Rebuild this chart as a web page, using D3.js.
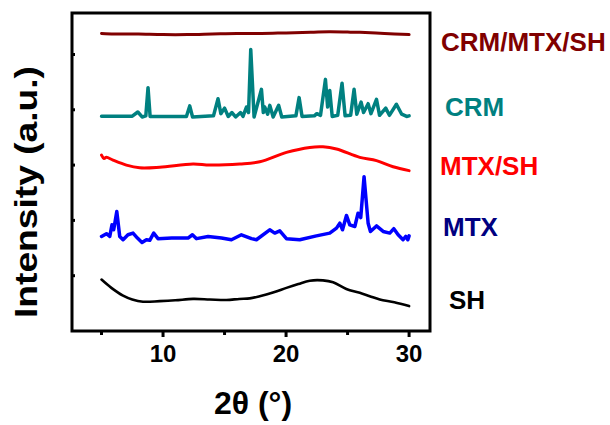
<!DOCTYPE html>
<html>
<head>
<meta charset="utf-8">
<script src="https://cdn.jsdelivr.net/npm/d3@7/dist/d3.min.js"></script>
<style>
  html, body { margin: 0; padding: 0; background: #fff; }
  svg { display: block; }
  text { font-family: "Liberation Sans", Arial, Helvetica, sans-serif; font-weight: bold; }
</style>
</head>
<body>
<svg id="chart" width="610" height="425"></svg>
<script>
// XRD patterns, stacked with vertical offsets (2θ in degrees, intensity in a.u.)
const seriesNames = ["CRM/MTX/SH", "CRM", "MTX/SH", "MTX", "SH"];
const lineColors  = ["#800000", "#008080", "#ff0000", "#0000ff", "#000000"];
const labelColors = ["#800000", "#008080", "#ff0000", "#000080", "#000000"];

const xTicks = [5, 10, 15, 20, 25, 30];
const xTickLabels = ["", "10", "", "20", "", "30"];
const yTicks = [1, 2, 3, 4, 5];

const crmMtxSh = [
  [5.0, 5.38], [6.0, 5.37], [7.0, 5.37], [8.0, 5.37], [10.0, 5.36], [12.0, 5.36],
  [14.0, 5.37], [16.0, 5.38], [18.0, 5.38], [20.0, 5.39], [22.0, 5.40], [23.5, 5.41],
  [25.0, 5.405], [26.0, 5.40], [28.0, 5.38], [30.0, 5.36]
];

const crm = [
  [5.0, 3.885], [7.5, 3.885], [7.95, 3.96], [8.3, 3.87], [8.6, 3.89], [8.78, 4.40],
  [8.95, 3.88], [11.9, 3.88], [12.17, 4.07], [12.4, 3.87], [14.1, 3.89], [14.47, 4.20],
  [14.7, 3.93], [15.0, 4.03], [15.3, 3.88], [15.6, 3.95], [15.9, 3.87], [16.3, 3.95],
  [16.5, 3.88], [16.78, 4.05], [16.95, 3.95], [17.13, 5.09], [17.4, 3.87], [18.0, 4.37],
  [18.15, 3.95], [18.27, 4.05], [18.5, 3.92], [18.68, 4.08], [18.95, 3.87], [19.4, 4.08],
  [19.65, 3.87], [20.8, 3.89], [21.06, 4.22], [21.3, 3.88], [22.3, 3.89], [22.5, 3.93],
  [22.8, 3.90], [23.2, 4.55], [23.38, 4.05], [23.55, 4.35], [23.75, 3.88], [24.2, 3.90],
  [24.55, 4.48], [24.8, 3.89], [25.25, 3.90], [25.53, 4.37], [25.75, 3.92], [26.1, 4.14],
  [26.3, 3.95], [26.67, 4.11], [26.9, 3.93], [27.35, 4.19], [27.6, 3.90], [28.1, 4.03],
  [28.4, 3.90], [28.97, 4.10], [29.4, 3.92], [29.8, 3.88], [30.0, 3.89]
];

const mtxSh = [
  [5.0, 3.18], [5.2, 3.12], [5.4, 3.14], [5.93, 3.09], [7.02, 3.00], [8.1, 2.95],
  [9.73, 2.96], [12.44, 3.02], [13.8, 3.00], [16.24, 3.02], [17.86, 3.06], [20.03, 3.23],
  [21.93, 3.32], [23.0, 3.33], [24.1, 3.29], [25.99, 3.14], [27.35, 3.08], [28.7, 2.97],
  [30.0, 2.90]
];

const mtx = [
  [5.0, 1.71], [5.4, 1.76], [5.67, 1.71], [5.85, 1.92], [5.99, 1.83], [6.24, 2.16],
  [6.48, 1.71], [6.75, 1.65], [7.15, 1.74], [7.56, 1.77], [7.92, 1.68], [8.29, 1.60],
  [8.65, 1.65], [8.92, 1.64], [9.24, 1.77], [9.59, 1.67], [10.71, 1.68], [12.03, 1.68],
  [12.39, 1.74], [12.72, 1.67], [13.66, 1.71], [14.75, 1.68], [15.56, 1.65], [16.37, 1.74],
  [17.19, 1.67], [17.59, 1.65], [18.67, 1.83], [19.08, 1.77], [19.49, 1.81], [20.03, 1.67],
  [21.11, 1.65], [22.47, 1.72], [23.55, 1.77], [24.1, 1.86], [24.37, 1.95], [24.59, 1.83],
  [24.91, 2.09], [25.18, 1.92], [25.59, 1.89], [25.85, 2.13], [26.07, 2.05], [26.34, 2.79],
  [26.67, 1.95], [26.86, 1.80], [27.35, 1.90], [27.89, 1.80], [28.43, 1.77], [28.76, 1.85],
  [29.11, 1.74], [29.51, 1.65], [29.73, 1.71], [29.9, 1.65], [30.0, 1.72]
];

const sh = [
  [5.0, 0.93], [5.8, 0.78], [6.75, 0.64], [7.5, 0.57], [8.37, 0.53], [9.73, 0.54],
  [11.0, 0.555], [12.44, 0.58], [13.8, 0.57], [15.15, 0.56], [16.2, 0.58], [17.05, 0.59],
  [17.86, 0.63], [19.0, 0.70], [20.03, 0.78], [21.0, 0.85], [21.93, 0.91], [23.0, 0.915],
  [23.82, 0.88], [24.9, 0.76], [25.99, 0.69], [26.8, 0.63], [27.62, 0.57], [28.8, 0.52],
  [30.0, 0.45]
];

const seriesData = [crmMtxSh, crm, mtxSh, mtx, sh];
const smoothSeries = [true, false, true, false, true];
const lineWidths = [3, 3.5, 3, 3.5, 2.6];

// ---- layout ----
const svg = d3.select("#chart");
const plot = { left: 72, right: 430, top: 13, bottom: 331 };

const x = d3.scaleLinear().domain([2.6, 31.7]).range([plot.left, plot.right]);
const y = d3.scaleLinear().domain([0, 5.75]).range([plot.bottom, plot.top]);

// bottom axis: long ticks on labelled values, short ones between
const xAxis = svg.append("g").attr("transform", `translate(0,${plot.bottom})`);
xAxis.selectAll("line.tick")
  .data(xTicks)
  .join("line")
  .attr("class", "tick")
  .attr("x1", d => x(d)).attr("x2", d => x(d))
  .attr("y1", 0)
  .attr("y2", (d, i) => xTickLabels[i] ? 6 : 4)
  .attr("stroke", "#000").attr("stroke-width", 3);
xAxis.selectAll("text")
  .data(xTicks.filter((d, i) => xTickLabels[i]))
  .join("text")
  .attr("x", d => x(d))
  .attr("y", 31)
  .attr("text-anchor", "middle")
  .attr("font-size", 24)
  .text(d => xTickLabels[xTicks.indexOf(d)]);

// left axis: small inward ticks, no numbers
svg.append("g")
  .selectAll("line")
  .data(yTicks)
  .join("line")
  .attr("x1", plot.left).attr("x2", plot.left + 3)
  .attr("y1", d => y(d)).attr("y2", d => y(d))
  .attr("stroke", "#000").attr("stroke-width", 3);

// curves
const lineLinear = d3.line().x(d => x(d[0])).y(d => y(d[1]));
const lineSmooth = d3.line().x(d => x(d[0])).y(d => y(d[1])).curve(d3.curveCatmullRom.alpha(0.5));

svg.append("g")
  .selectAll("path")
  .data(seriesData)
  .join("path")
  .attr("d", (d, i) => (smoothSeries[i] ? lineSmooth : lineLinear)(d))
  .attr("fill", "none")
  .attr("stroke", (d, i) => lineColors[i])
  .attr("stroke-width", (d, i) => lineWidths[i])
  .attr("stroke-linejoin", "round")
  .attr("stroke-linecap", "round");

// frame
svg.append("rect")
  .attr("x", plot.left).attr("y", plot.top)
  .attr("width", plot.right - plot.left).attr("height", plot.bottom - plot.top)
  .attr("fill", "none").attr("stroke", "#000").attr("stroke-width", 3);

// series names on the right, next to each trace's end
const labelX = [441, 445, 440, 443, 449];
const labelDy = [16, 0, 4, 0, 3];
svg.append("g")
  .selectAll("text")
  .data(seriesNames)
  .join("text")
  .attr("x", (d, i) => labelX[i])
  .attr("y", (d, i) => y(seriesData[i][seriesData[i].length - 1][1]) + labelDy[i])
  .attr("font-size", 26)
  .attr("fill", (d, i) => labelColors[i])
  .text(d => d);

// axis titles
svg.append("text")
  .attr("x", 253).attr("y", 414)
  .attr("text-anchor", "middle")
  .attr("font-size", 32)
  .text("2θ (°)");

svg.append("text")
  .attr("transform", "translate(37,192) rotate(-90)")
  .attr("text-anchor", "middle")
  .attr("font-size", 32)
  .attr("textLength", 252)
  .attr("lengthAdjust", "spacingAndGlyphs")
  .text("Intensity (a.u.)");
</script>
</body>
</html>
